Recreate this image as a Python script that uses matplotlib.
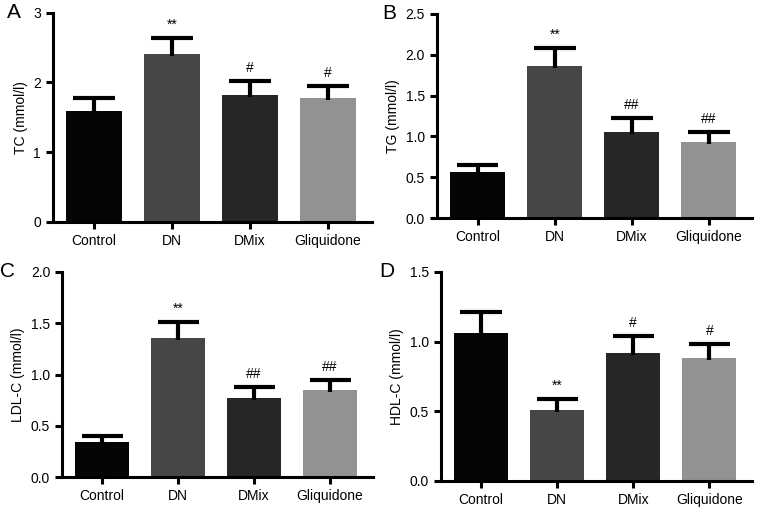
import matplotlib.pyplot as plt
import numpy as np

plt.rcParams['font.family'] = ['Liberation Sans', 'DejaVu Sans']

groups = ['Control', 'DN', 'DMix', 'Gliquidone']
colors = ['#050505', '#464646', '#262626', '#929292']

tc = [1.59, 2.41, 1.82, 1.78]
tc_err = [0.18, 0.23, 0.20, 0.17]
tg = [0.57, 1.86, 1.05, 0.93]
tg_err = [0.08, 0.22, 0.17, 0.12]
ldl = [0.34, 1.36, 0.77, 0.85]
ldl_err = [0.06, 0.15, 0.11, 0.10]
hdl = [1.06, 0.51, 0.92, 0.88]
hdl_err = [0.15, 0.08, 0.12, 0.10]

tc_sig = ['', '**', '#', '#']
tg_sig = ['', '**', '##', '##']
ldl_sig = ['', '**', '##', '##']
hdl_sig = ['', '**', '#', '#']

panels = [
    ('A', tc, tc_err, tc_sig, 'TC (mmol/l)', [0, 1, 2, 3], '{:.0f}', [0.069, 0.566, 0.417, 0.409], -0.10),
    ('B', tg, tg_err, tg_sig, 'TG (mmol/l)', [0, 0.5, 1.0, 1.5, 2.0, 2.5], '{:.1f}', [0.571, 0.573, 0.412, 0.400], -0.13),
    ('C', ldl, ldl_err, ldl_sig, 'LDL-C (mmol/l)', [0, 0.5, 1.0, 1.5, 2.0], '{:.1f}', [0.081, 0.066, 0.406, 0.402], -0.15),
    ('D', hdl, hdl_err, hdl_sig, 'HDL-C (mmol/l)', [0, 0.5, 1.0, 1.5], '{:.1f}', [0.576, 0.059, 0.407, 0.409], -0.15),
]

fig = plt.figure(figsize=(7.65, 5.11), dpi=100)

for letter, vals, errs, sig, ylab, yticks, fmt, pos, lx in panels:
    ax = fig.add_axes(pos)
    x = np.arange(len(groups))
    vals = np.array(vals)
    errs = np.array(errs)
    top = yticks[-1]
    ax.bar(x, vals, width=0.71, color=colors, zorder=1)
    # upper-only error bars: stem and cap
    ax.vlines(x, vals - top * 0.01, vals + errs, color='black', linewidth=3, zorder=2)
    ax.hlines(vals + errs, x - 0.27, x + 0.27, color='black', linewidth=3, zorder=2)
    for xi, v, e, s in zip(x, vals, errs, sig):
        if s:
            ax.text(xi, v + e + top * 0.03, s, ha='center', va='bottom', fontsize=10)
    ax.set_xlim(-0.53, 3.56)
    ax.set_ylim(0, top)
    ax.set_yticks(yticks)
    ax.set_yticklabels([fmt.format(t) for t in yticks])
    ax.set_xticks(x)
    ax.set_xticklabels(groups)
    ax.spines['top'].set_visible(False)
    ax.spines['right'].set_visible(False)
    ax.spines['left'].set_linewidth(2.2)
    ax.spines['bottom'].set_linewidth(2.2)
    ax.tick_params(width=2.2, length=5, labelsize=10)
    ax.set_ylabel(ylab, fontsize=10)
    ax.text(lx, 1.0, letter, transform=ax.transAxes,
            fontsize=15, ha='right', va='center')

fig.savefig('out.png', dpi=100)
